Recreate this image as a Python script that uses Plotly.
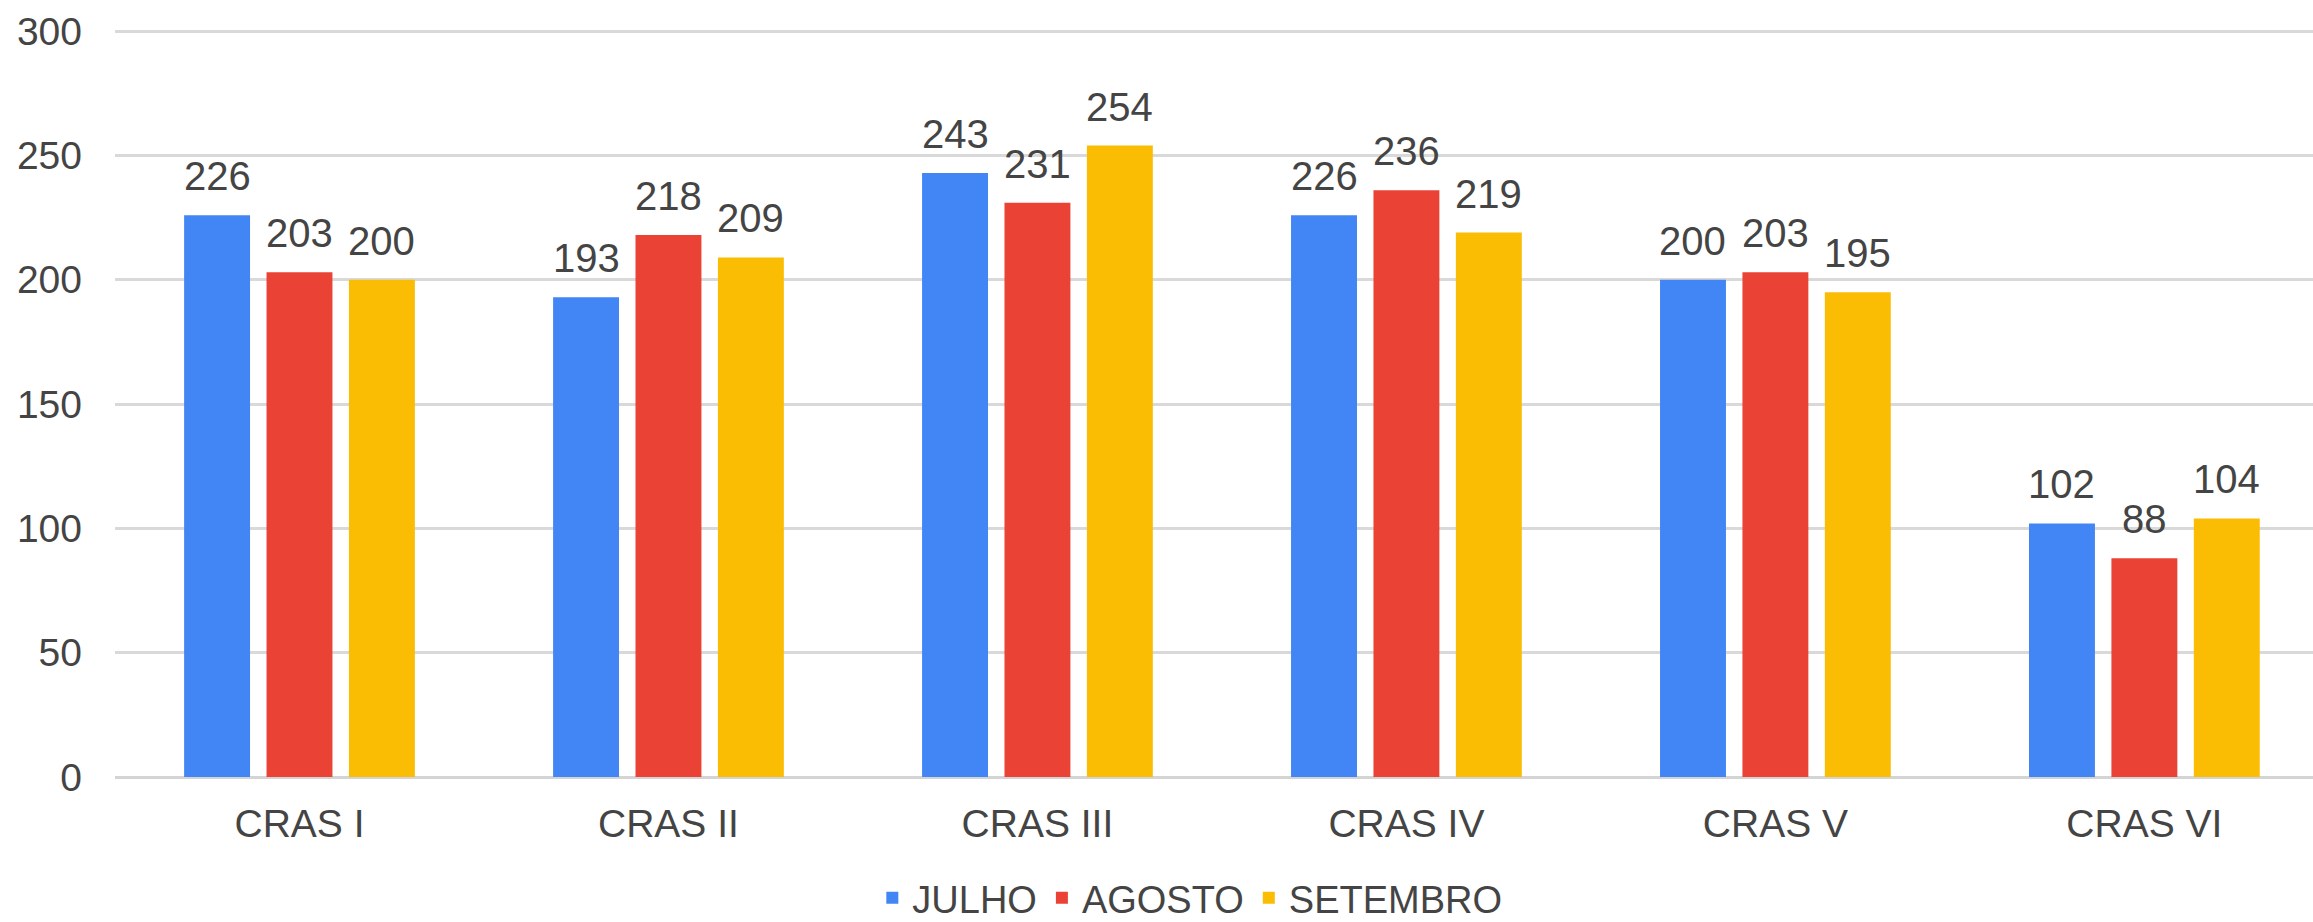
import plotly.graph_objects as go

categories = ["CRAS I", "CRAS II", "CRAS III", "CRAS IV", "CRAS V", "CRAS VI"]
julho = [226, 193, 243, 226, 200, 102]
agosto = [203, 218, 231, 236, 203, 88]
setembro = [200, 209, 254, 219, 195, 104]
series_names = ["JULHO", "AGOSTO", "SETEMBRO"]
series_values = [julho, agosto, setembro]
colors = ["#4285F4", "#EA4335", "#FBBC04"]
y_ticks = [0, 50, 100, 150, 200, 250, 300]

FONT = "Liberation Sans, Arial, sans-serif"
TXT = "#444444"
BARGAP = 0.33

fig = go.Figure()
for name, vals, col in zip(series_names, series_values, colors):
    fig.add_trace(go.Bar(x=categories, y=vals, name=name, marker_color=col,
                         marker_line_width=0))

# data labels
n = len(series_values)
slot = (1 - BARGAP) / n
for j, vals in enumerate(series_values):
    for i, v in enumerate(vals):
        fig.add_annotation(x=i + (j - (n - 1) / 2) * slot, y=v, xref="x", yref="y",
                           text=str(v), showarrow=False, yanchor="bottom",
                           yshift=15, font=dict(family=FONT, size=40, color=TXT))

fig.update_layout(
    width=2313, height=922,
    margin=dict(l=115, r=0, t=30, b=145, autoexpand=False),
    paper_bgcolor="white", plot_bgcolor="white",
    barmode="group", bargap=BARGAP, bargroupgap=0.2,
    font=dict(family=FONT, size=39, color=TXT),
    showlegend=True,
    legend=dict(orientation="h", x=0.489, xanchor="center", y=-0.162, yanchor="middle",
                font=dict(family=FONT, size=38, color=TXT), itemwidth=30),
)
fig.update_xaxes(type="category", range=[-0.5, 5.457], showgrid=False,
                 showline=False, zeroline=False, ticks="",
                 ticklabelstandoff=20, tickfont=dict(size=39, color=TXT))
fig.update_yaxes(range=[0, 300.5], tickvals=y_ticks, showgrid=True, gridcolor="#d9d9d9",
                 gridwidth=3, zeroline=True, zerolinecolor="#d4d4d4", zerolinewidth=3,
                 showline=False, ticks="", ticklabelstandoff=32,
                 tickfont=dict(size=39, color=TXT))

fig.write_html("out.html", config={"displayModeBar": False},
               post_script="document.body.style.margin='0';document.body.style.overflow='hidden';")
